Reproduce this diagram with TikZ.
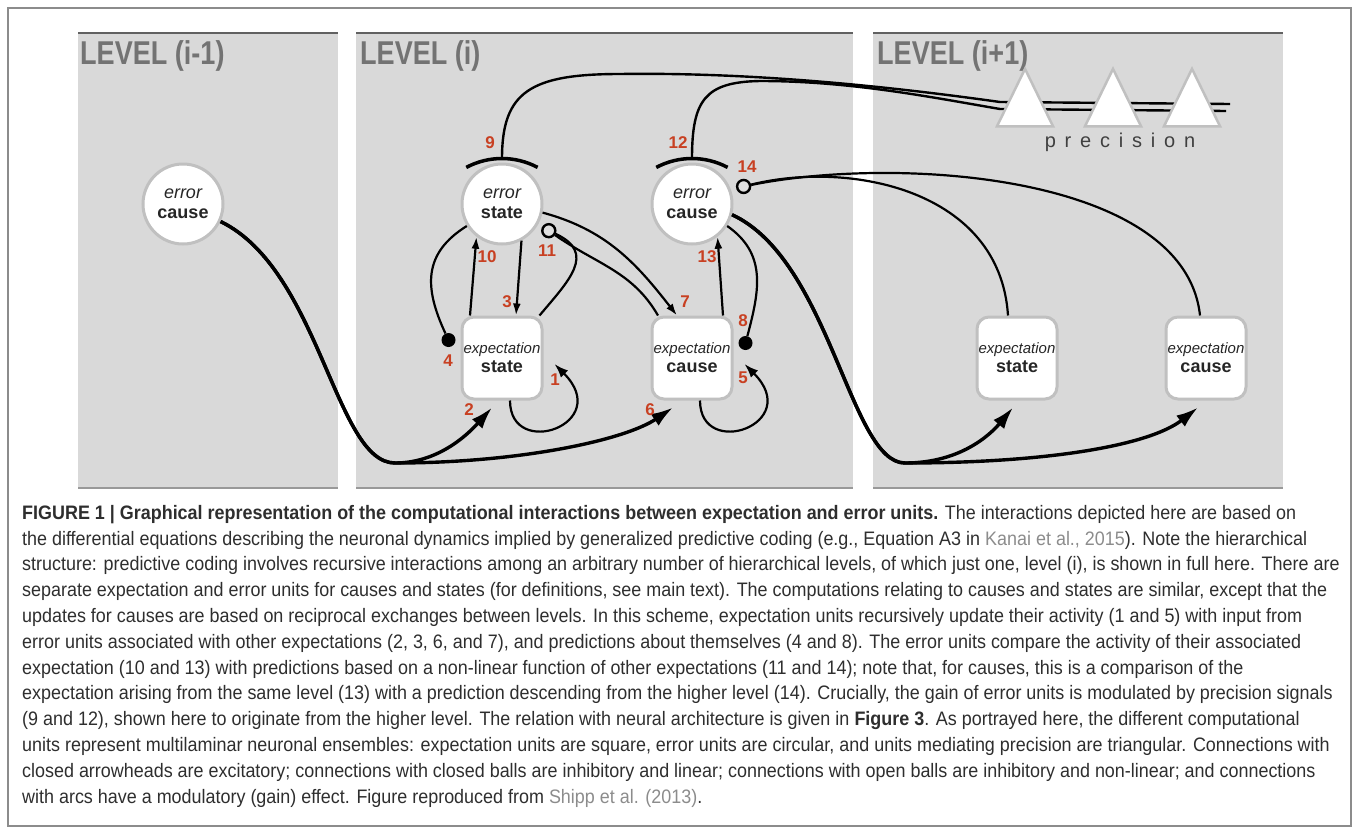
\documentclass[tikz,border=0pt]{standalone}
\usepackage{fontspec}
\setmainfont{Liberation Sans}
\newfontfamily\narrowfont[FakeStretch=0.82]{Liberation Sans}
\newfontfamily\capfont[FakeStretch=0.92]{Liberation Sans}
\newfontfamily\spacedfont[LetterSpace=44]{Liberation Sans}
\usetikzlibrary{positioning, shapes.geometric, arrows.meta, calc}
\definecolor{numred}{RGB}{200,64,34}
\definecolor{panelgray}{RGB}{217,217,217}
\definecolor{rimgray}{RGB}{192,192,192}
\definecolor{linkgray}{RGB}{140,140,140}
\newcommand{\errtext}[1]{{\itshape error}\\{\bfseries #1}}
\newcommand{\exptext}[1]{{\itshape\fontsize{15}{19}\selectfont expectation}\\{\bfseries #1}}
\newcommand{\lnk}[1]{\textcolor{linkgray}{#1}}

\begin{document}
\begin{tikzpicture}[
  x=1pt, y=1pt,
  lvl/.style={anchor=north west, inner sep=0pt, text=black!55,
    font=\narrowfont\bfseries\fontsize{33}{33}\selectfont},
  errunit/.style={circle, fill=white, draw=rimgray, line width=3pt,
    minimum size=80pt, inner sep=0pt, align=center, text=black!85,
    font=\fontsize{18}{20}\selectfont},
  expunit/.style={rectangle, rounded corners=12pt, fill=white, draw=rimgray,
    line width=3pt, minimum width=80pt, minimum height=82pt, inner sep=0pt,
    align=center, text=black!85, font=\fontsize{18}{19}\selectfont},
  precunit/.style={isosceles triangle, isosceles triangle apex angle=52,
    shape border rotate=90, anchor=apex, fill=white, draw=rimgray,
    line width=2.5pt, minimum width=56pt, minimum height=56pt, inner sep=0pt},
  num/.style={text=numred, inner sep=0pt, font=\bfseries\fontsize{17}{17}\selectfont},
  wire/.style={line width=2.2pt},
  exc/.style={wire, -{Latex[length=12pt,width=8pt]}},
  loopexc/.style={wire, -{Latex[length=14pt,width=10pt]}},
  bigexc/.style={line width=3.4pt, -{Latex[length=22pt,width=14pt]}},
  gain/.style={line width=3.5pt},
  precwire/.style={line width=2.4pt},
  ball/.style={circle, fill=black, inner sep=0pt, minimum size=14pt},
  openball/.style={circle, fill=rimgray!50, draw=black, line width=2.4pt,
    inner sep=0pt, minimum size=13pt}
]
\useasboundingbox (0,0) rectangle (1358,-833);
\draw[black!45, line width=1.5pt] (8,-8) rectangle (1351,-826);

\foreach \xa/\xb in {78/338, 356/853, 873/1283} {
  \fill[panelgray] (\xa,-33) rectangle (\xb,-488);
  \draw[black!62, line width=2.5pt] (\xa,-33) -- (\xb,-33);
  \draw[black!40, line width=2pt] (\xa,-488) -- (\xb,-488);
}
\node[lvl] (lvlA) at (80,-40) {LEVEL (i-1)};
\node[lvl] (lvlB) at (360,-40) {LEVEL (i)};
\node[lvl] (lvlC) at (877,-40) {LEVEL (i+1)};

\node[errunit] (errC0) at (183,-204) {\errtext{cause}};
\node[errunit] (errS) at (502,-204) {\errtext{state}};
\node[expunit, below=70pt of errS] (expS) {\exptext{state}};
\node[errunit] (errC) at (692,-204) {\errtext{cause}};
\node[expunit, below=70pt of errC] (expC) {\exptext{cause}};
\node[expunit] (expS2) at (1017,-358) {\exptext{state}};
\node[expunit] (expC2) at (1206,-358) {\exptext{cause}};

% precision signals and gain arcs
\coordinate (arc9) at ([yshift=4pt]errS.north);
\coordinate (arc12) at ([yshift=4pt]errC.north);
\coordinate (pEnd9) at (1230,-104);
\coordinate (pEnd12) at (1226,-111);
\draw[precwire] (arc9) .. controls (502,-92) and (530,-74) .. (620,-74)
  .. controls (760,-72) and (900,-88) .. (1000,-102) -- (pEnd9);
\draw[precwire] (arc12) .. controls (692,-100) and (705,-82) .. (760,-81)
  .. controls (850,-81) and (930,-97) .. (1000,-109) -- (pEnd12);
\draw[gain] (arc9) ++(-35.7,-8.9) arc[start angle=118, end angle=62, radius=76];
\draw[gain] (arc12) ++(-35.7,-8.9) arc[start angle=118, end angle=62, radius=76];
\node[precunit] (prec1) at (1025,-66) {};
\node[precunit] (prec2) at (1113,-66) {};
\node[precunit] (prec3) at (1192,-66) {};
\node[text=black!75, font=\spacedfont\fontsize{20}{20}\selectfont] (precLbl) at (1120,-142) {precision};

\node[ball] (ball4) at ([xshift=-12pt,yshift=18pt]expS.west) {};
\node[ball] (ball8) at ([xshift=12pt,yshift=15pt]expC.east) {};
\node[openball] (ball11) at ([xshift=15pt]errS.-40) {};
\node[openball] (ball14) at ([xshift=14pt]errC.25) {};

% ascending and descending connections
\coordinate (low0) at (395,-463);
\coordinate (low1) at (905,-463);
\draw[bigexc] (errC0.-25) .. controls (320,-270) and (335,-463) .. (low0)
  .. controls (440,-463) and (470,-432) .. ([xshift=-10pt,yshift=-7pt]expS.south);
\draw[bigexc] (errC0.-25) .. controls (320,-270) and (335,-463) .. (low0)
  .. controls (520,-463) and (625,-440) .. ([xshift=-19pt,yshift=-7pt]expC.south);
\draw[bigexc] (errC.-15) .. controls (830,-260) and (850,-463) .. (low1)
  .. controls (960,-463) and (990,-435) .. ([xshift=-4pt,yshift=-7pt]expS2.south);
\draw[bigexc] (errC.-15) .. controls (830,-260) and (850,-463) .. (low1)
  .. controls (1050,-463) and (1150,-445) .. ([xshift=-8pt,yshift=-7pt]expC2.south);

\draw[loopexc] ([xshift=8pt]expS.south) .. controls +(0,-60) and +(60,-60) .. ([xshift=11pt,yshift=-6pt]expS.east);
\draw[loopexc] ([xshift=8pt]expC.south) .. controls +(0,-60) and +(60,-60) .. ([xshift=11pt,yshift=-6pt]expC.east);
\draw[exc] ([xshift=-32pt]expS.north) -- (errS.232);
\draw[exc] (errS.-62) -- ([xshift=14pt]expS.north);
\draw[exc] ([xshift=31pt]expC.north) -- (errC.-52);
\draw[exc] (errS.-12) to[out=-15, in=128] ([xshift=-15pt]expC.north);
\draw[wire] (errS.212) to[out=212, in=115, looseness=1.2] (ball4);
\draw[wire] (errC.-32) to[out=-35, in=75, looseness=1.1] (ball8);
\draw[wire] ([xshift=-4pt]expS.north east) to[out=50, in=-25, looseness=1.4] (ball11);
\draw[wire] ([xshift=-34pt]expC.north) to[out=120, in=-35] (ball11);
\draw[wire] ([xshift=-9pt]expS2.north) .. controls (1000,-190) and (850,-160) .. (ball14);
\draw[wire] ([xshift=-6pt]expC2.north) .. controls (1185,-175) and (900,-155) .. (ball14);

\node[num] (n1) at (555,-380) {1};
\node[num] (n2) at (469,-410) {2};
\node[num] (n3) at (507,-302) {3};
\node[num] (n4) at (448,-361) {4};
\node[num] (n5) at (743,-378) {5};
\node[num] (n6) at (650,-410) {6};
\node[num] (n7) at (685,-302) {7};
\node[num] (n8) at (743,-321) {8};
\node[num] (n9) at (490,-143) {9};
\node[num] (n10) at (487,-257) {10};
\node[num] (n11) at (547,-251) {11};
\node[num] (n12) at (678,-143) {12};
\node[num] (n13) at (707,-257) {13};
\node[num] (n14) at (747,-167) {14};

\node[anchor=north west, inner sep=0pt, align=left, text=black!82,
  font=\capfont\fontsize{19.5}{25.8}\selectfont] (caption) at (22,-505) {%
\textbf{FIGURE 1 | Graphical representation of the computational interactions between expectation and error units.} The interactions depicted here are based on\\
the differential equations describing the neuronal dynamics implied by generalized predictive coding (e.g., Equation A3 in \lnk{Kanai et al., 2015}). Note the hierarchical\\
structure: predictive coding involves recursive interactions among an arbitrary number of hierarchical levels, of which just one, level (i), is shown in full here. There are\\
separate expectation and error units for causes and states (for definitions, see main text). The computations relating to causes and states are similar, except that the\\
updates for causes are based on reciprocal exchanges between levels. In this scheme, expectation units recursively update their activity (1 and 5) with input from\\
error units associated with other expectations (2, 3, 6, and 7), and predictions about themselves (4 and 8). The error units compare the activity of their associated\\
expectation (10 and 13) with predictions based on a non-linear function of other expectations (11 and 14); note that, for causes, this is a comparison of the\\
expectation arising from the same level (13) with a prediction descending from the higher level (14). Crucially, the gain of error units is modulated by precision signals\\
(9 and 12), shown here to originate from the higher level. The relation with neural architecture is given in \textbf{Figure 3}. As portrayed here, the different computational\\
units represent multilaminar neuronal ensembles: expectation units are square, error units are circular, and units mediating precision are triangular. Connections with\\
closed arrowheads are excitatory; connections with closed balls are inhibitory and linear; connections with open balls are inhibitory and non-linear; and connections\\
with arcs have a modulatory (gain) effect. Figure reproduced from \lnk{Shipp et al. (2013)}.};
\end{tikzpicture}
\end{document}
